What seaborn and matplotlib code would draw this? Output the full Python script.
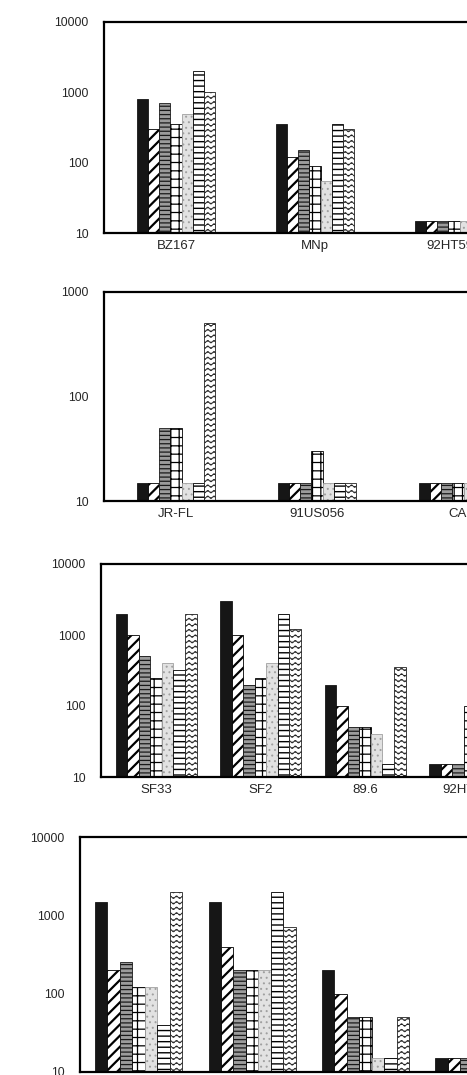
import numpy as np
import pandas as pd
import matplotlib
matplotlib.use("Agg")
import matplotlib.pyplot as plt
import matplotlib.hatch as mhatch
from matplotlib.path import Path
from matplotlib.ticker import NullLocator
import seaborn as sns

# ---------------- data ----------------
series = ["serum_1", "serum_2", "serum_3", "serum_4", "serum_5", "serum_6", "serum_7"]
nan = np.nan

p1_isolates = ["BZ167", "MNp", "92HT593"]
p1_s1 = [800, 350, 15]
p1_s2 = [300, 120, 15]
p1_s3 = [700, 150, 15]
p1_s4 = [350, 90, 15]
p1_s5 = [500, 55, 15]
p1_s6 = [2000, 350, nan]
p1_s7 = [1000, 300, nan]

p2_isolates = ["JR-FL", "91US056", "CA"]
p2_s1 = [15, 15, 15]
p2_s2 = [15, 15, 15]
p2_s3 = [50, 15, 15]
p2_s4 = [50, 30, 15]
p2_s5 = [15, 15, 15]
p2_s6 = [15, 15, nan]
p2_s7 = [500, 15, nan]

p3_isolates = ["SF33", "SF2", "89.6", "92HT593"]
p3_s1 = [2000, 3000, 200, 15]
p3_s2 = [1000, 1000, 100, 15]
p3_s3 = [500, 200, 50, 15]
p3_s4 = [250, 250, 50, 100]
p3_s5 = [400, 400, 40, nan]
p3_s6 = [320, 2000, 15, nan]
p3_s7 = [2000, 1200, 350, nan]

p4_isolates = ["SF33", "SF2", "89.6", "92HT593"]
p4_s1 = [1500, 1500, 200, 15]
p4_s2 = [200, 400, 100, 15]
p4_s3 = [250, 200, 50, 15]
p4_s4 = [120, 200, 50, nan]
p4_s5 = [120, 200, 15, nan]
p4_s6 = [40, 2000, 15, nan]
p4_s7 = [2000, 700, 50, nan]

p1_yticks = [10, 100, 1000, 10000]
p2_yticks = [10, 100, 1000]
p3_yticks = [10, 100, 1000, 10000]
p4_yticks = [10, 100, 1000, 10000]


# ---------------- wavy hatch (replaces the unused 'O' pattern) ----------------
class WavyHatch(mhatch.HatchPatternBase):
    def __init__(self, hatch, density):
        self.num_rows = int(hatch.count("O") * density)
        self.npts = 257
        self.num_vertices = self.num_rows * self.npts

    def set_vertices_and_codes(self, vertices, codes):
        xs = np.linspace(0.0, 1.0, self.npts)
        wave = (0.22 / self.num_rows) * np.sin(2 * np.pi * 16 * xs)
        for i in range(self.num_rows):
            y = (i + 0.5) / self.num_rows
            sl = slice(i * self.npts, (i + 1) * self.npts)
            vertices[sl, 0] = xs
            vertices[sl, 1] = y + wave
            codes[sl] = Path.LINETO
            codes[i * self.npts] = Path.MOVETO


mhatch._hatch_types = [t for t in mhatch._hatch_types
                       if t is not mhatch.LargeCircles] + [WavyHatch]

# ---------------- style ----------------
sns.set_style("white")
plt.rcParams["font.family"] = ["Liberation Sans", "DejaVu Sans"]
plt.rcParams["hatch.linewidth"] = 1.0

styles = [
    dict(face="#161616", edge="#161616", hatch=None, hlw=1.0),
    dict(face="white", edge="black", hatch="///", hlw=1.6),
    dict(face="#9c9c9c", edge="#1a1a1a", hatch="----", hlw=0.9),
    dict(face="white", edge="black", hatch="++", hlw=0.9),
    dict(face="#e2e2e2", edge="#a0a0a0", hatch="...", hlw=0.7),
    dict(face="white", edge="black", hatch="---", hlw=1.0),
    dict(face="white", edge="#222222", hatch="OOO", hlw=0.6),
]

W, H = 467, 1075
fig = plt.figure(figsize=(W / 100, H / 100), dpi=100)

panels = [
    # isolates, values, yticks, left, top, bottom, first center, spacing, group width px, show xlabels
    (p1_isolates, [p1_s1, p1_s2, p1_s3, p1_s4, p1_s5, p1_s6, p1_s7], p1_yticks,
     104, 22, 233, 176, 139, 78, True),
    (p2_isolates, [p2_s1, p2_s2, p2_s3, p2_s4, p2_s5, p2_s6, p2_s7], p2_yticks,
     104, 292, 501, 176, 141, 78, True),
    (p3_isolates, [p3_s1, p3_s2, p3_s3, p3_s4, p3_s5, p3_s6, p3_s7], p3_yticks,
     101, 564, 777, 156, 104.5, 81, True),
    (p4_isolates, [p4_s1, p4_s2, p4_s3, p4_s4, p4_s5, p4_s6, p4_s7], p4_yticks,
     80, 837, 1072, 138.5, 113.5, 87, False),
]

RIGHT = 540  # axes extend beyond the (cropped) figure edge

for isolates, vals, yticks, L, T, B, c0, s, gw, showx in panels:
    rows = []
    for name, v in zip(series, vals):
        for iso, val in zip(isolates, v):
            if not np.isnan(val):
                rows.append((iso, name, val))
    df = pd.DataFrame(rows, columns=["isolate", "serum", "titer"])

    ax = fig.add_axes([L / W, 1 - B / H, (RIGHT - L) / W, (B - T) / H])
    ax.set_yscale("log")
    sns.barplot(data=df, x="isolate", y="titer", hue="serum",
                order=isolates, hue_order=series, width=gw / s,
                errorbar=None, legend=False, ax=ax, linewidth=0.6)

    for cont, st in zip(ax.containers, styles):
        for p in cont.patches:
            p.set_facecolor(st["face"])
            p.set_edgecolor(st["edge"])
            p.set_linewidth(0.6)
            if st["hatch"]:
                p.set_hatch(st["hatch"])
                try:
                    p.set_hatch_linewidth(st["hlw"])
                except AttributeError:
                    pass

    xmin = -(c0 - L) / s
    ax.set_xlim(xmin, xmin + (RIGHT - L) / s)
    ax.set_ylim(yticks[0], yticks[-1])
    ax.set_yticks(yticks)
    ax.set_yticklabels([str(t) for t in yticks], fontsize=8.8)
    ax.yaxis.set_minor_locator(NullLocator())
    ax.tick_params(axis="both", length=0)
    ax.tick_params(axis="y", pad=11)
    ax.tick_params(axis="x", pad=5, labelsize=9.5)
    if not showx:
        ax.set_xticklabels([])
    ax.set_xlabel("")
    ax.set_ylabel("")
    for sp in ax.spines.values():
        sp.set_visible(True)
        sp.set_color("black")
        sp.set_linewidth(1.6)
    ax.set_facecolor("white")

fig.savefig("out.png", dpi=100, facecolor="white")
